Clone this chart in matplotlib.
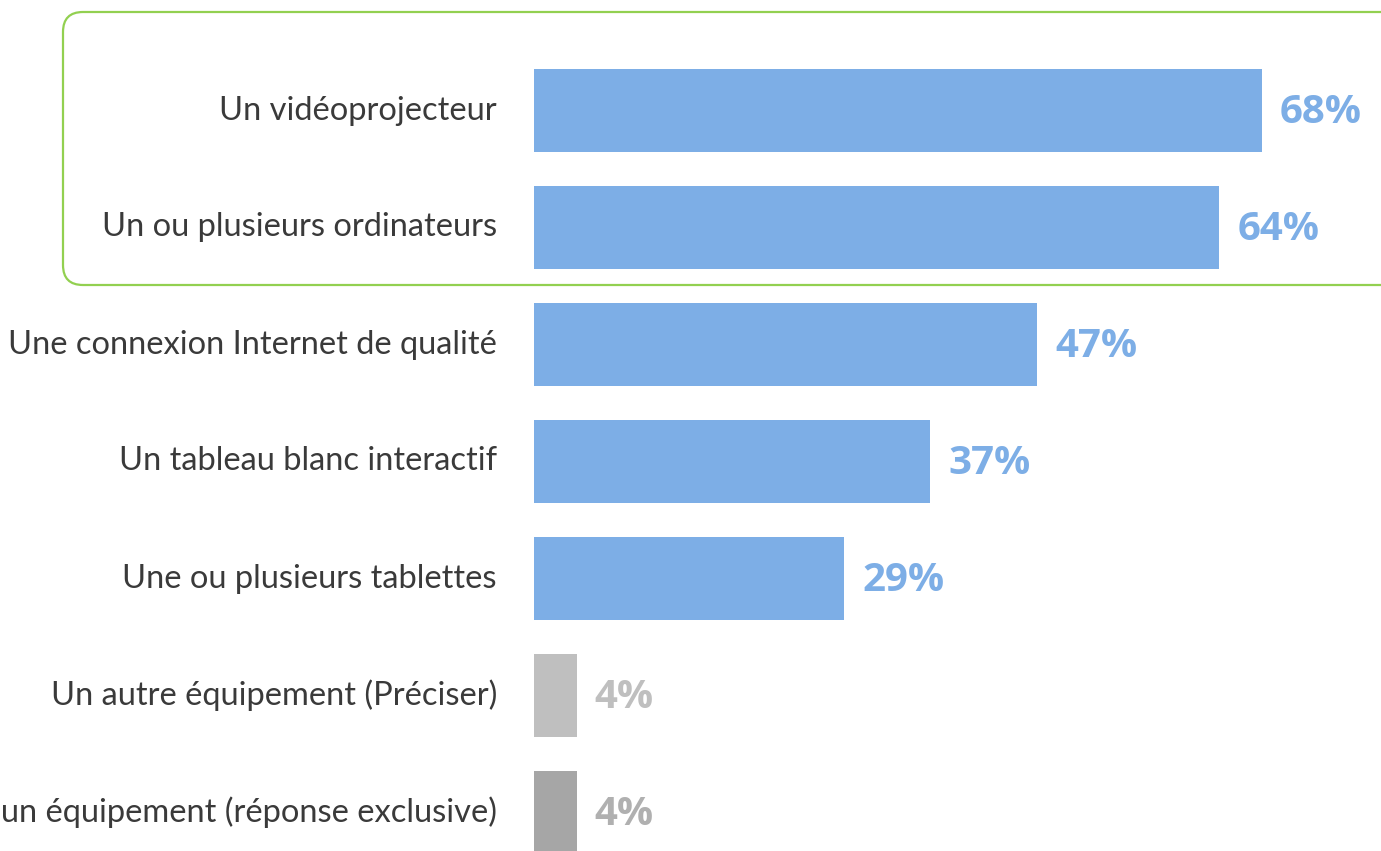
import matplotlib.pyplot as plt
from matplotlib.patches import FancyBboxPatch
from matplotlib.transforms import IdentityTransform

categories = [
    "Un vidéoprojecteur",
    "Un ou plusieurs ordinateurs",
    "Une connexion Internet de qualité",
    "Un tableau blanc interactif",
    "Une ou plusieurs tablettes",
    "Un autre équipement (Préciser)",
    "Aucun équipement (réponse exclusive)",
]
values = [68, 64, 47, 37, 29, 4, 4]
bar_colors = ["#7DAEE6"] * 5 + ["#BFBFBF", "#A6A6A6"]
label_colors = ["#7DAEE6"] * 5 + ["#BFBFBF", "#B0B0B0"]

W, H = 1381, 851
fig = plt.figure(figsize=(W / 100, H / 100), dpi=100)
ax = fig.add_axes([0, 0, 1, 1])

# pixel geometry of the reference: bar origin at x=534, 10.706 px per %
px_per_unit = 10.706
x0 = 534
pitch = 117
first_center = 110.5
ax.set_xlim(-x0 / px_per_unit, (W - x0) / px_per_unit)
ax.set_ylim((H - first_center) / pitch, -first_center / pitch)
ax.axis("off")

ypos = list(range(len(categories)))
ax.barh(ypos, values, height=83 / pitch, color=bar_colors)

for y, cat, v, c in zip(ypos, categories, values, label_colors):
    ax.text(-37 / px_per_unit, y, cat, ha="right", va="center",
            fontsize=23.5, color="#3A3A3A", family="Lato")
    ax.text(v + 18 / px_per_unit, y + 0.02, "{}%".format(v), ha="left", va="center",
            fontsize=29, color=c, family="Open Sans", fontweight="bold")

# green rounded frame around the two top items
box = FancyBboxPatch((63, H - 285), 1400, 273,
                     boxstyle="round,pad=0,rounding_size=20",
                     transform=IdentityTransform(), fill=False,
                     edgecolor="#92D050", linewidth=1.6)
fig.patches.append(box)

fig.savefig("out.png", dpi=100)
